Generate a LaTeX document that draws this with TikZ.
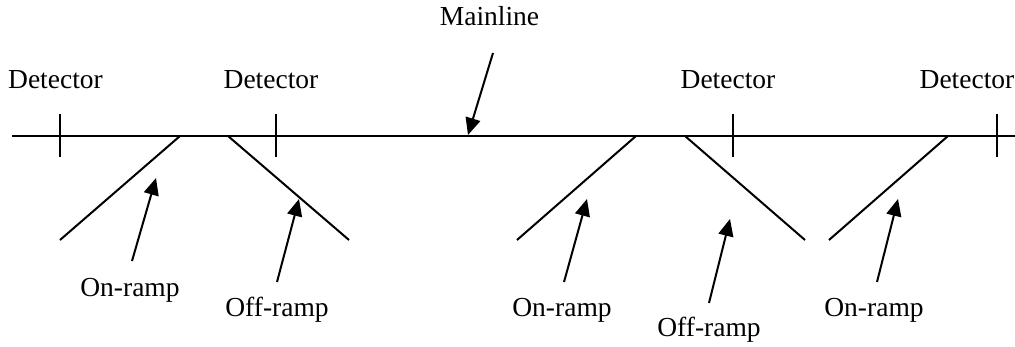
\documentclass[tikz,border=0pt]{standalone}
\usepackage{fontspec}
\setmainfont{Liberation Serif}
\usetikzlibrary{arrows.meta}
\begin{document}
\begin{tikzpicture}[x=1pt,y=-1pt,
  road/.style={line width=2pt},
  marker/.style={line width=2pt},
  pointer/.style={line width=2pt,-{Triangle[length=17pt,width=15pt]}},
  lbl/.style={anchor=base,inner sep=0pt,font=\fontsize{27.5}{33}\selectfont}]
\useasboundingbox (0,0) rectangle (1015,347);

% mainline
\coordinate (mlA) at (12,136);
\coordinate (mlB) at (1015,136);
\draw[road] (mlA) -- (mlB);

% detector stations
\foreach \n/\x in {d1/60,d2/276,d3/733,d4/997}{
  \coordinate (\n top) at (\x,114);
  \coordinate (\n bot) at (\x,157);
  \draw[marker] (\n top) -- (\n bot);
}
\node[lbl] (det1) at (55.5,89) {Detector};
\node[lbl] (det2) at (271,89) {Detector};
\node[lbl] (det3) at (728,89) {Detector};
\node[lbl] (det4) at (967,89) {Detector};

% ramps
\coordinate (on1a) at (180,136);  \coordinate (on1b) at (60,240);
\coordinate (off1a) at (228,136); \coordinate (off1b) at (349,240);
\coordinate (on2a) at (636,136);  \coordinate (on2b) at (517,240);
\coordinate (off2a) at (685,136); \coordinate (off2b) at (805,240);
\coordinate (on3a) at (948,136);  \coordinate (on3b) at (829,240);
\draw[road] (on1a) -- (on1b);
\draw[road] (off1a) -- (off1b);
\draw[road] (on2a) -- (on2b);
\draw[road] (off2a) -- (off2b);
\draw[road] (on3a) -- (on3b);

% labels
\node[lbl] (main) at (489.5,26) {Mainline};
\node[lbl] (lon1) at (130,297) {On-ramp};
\node[lbl] (loff1) at (277,317) {Off-ramp};
\node[lbl] (lon2) at (562,317) {On-ramp};
\node[lbl] (loff2) at (709,337) {Off-ramp};
\node[lbl] (lon3) at (874,317) {On-ramp};

% pointer ends
\coordinate (pMainT) at (493,53);  \coordinate (pMainH) at (468,135);
\coordinate (pOn1T) at (132,261);  \coordinate (pOn1H) at (156,178);
\coordinate (pOff1T) at (277,282); \coordinate (pOff1H) at (299,199);
\coordinate (pOn2T) at (564,282);  \coordinate (pOn2H) at (587,199);
\coordinate (pOff2T) at (709,303); \coordinate (pOff2H) at (730,219);
\coordinate (pOn3T) at (877,282);  \coordinate (pOn3H) at (898,199);

\draw[pointer] (pMainT) -- (pMainH);
\draw[pointer] (pOn1T) -- (pOn1H);
\draw[pointer] (pOff1T) -- (pOff1H);
\draw[pointer] (pOn2T) -- (pOn2H);
\draw[pointer] (pOff2T) -- (pOff2H);
\draw[pointer] (pOn3T) -- (pOn3H);
\end{tikzpicture}
\end{document}
